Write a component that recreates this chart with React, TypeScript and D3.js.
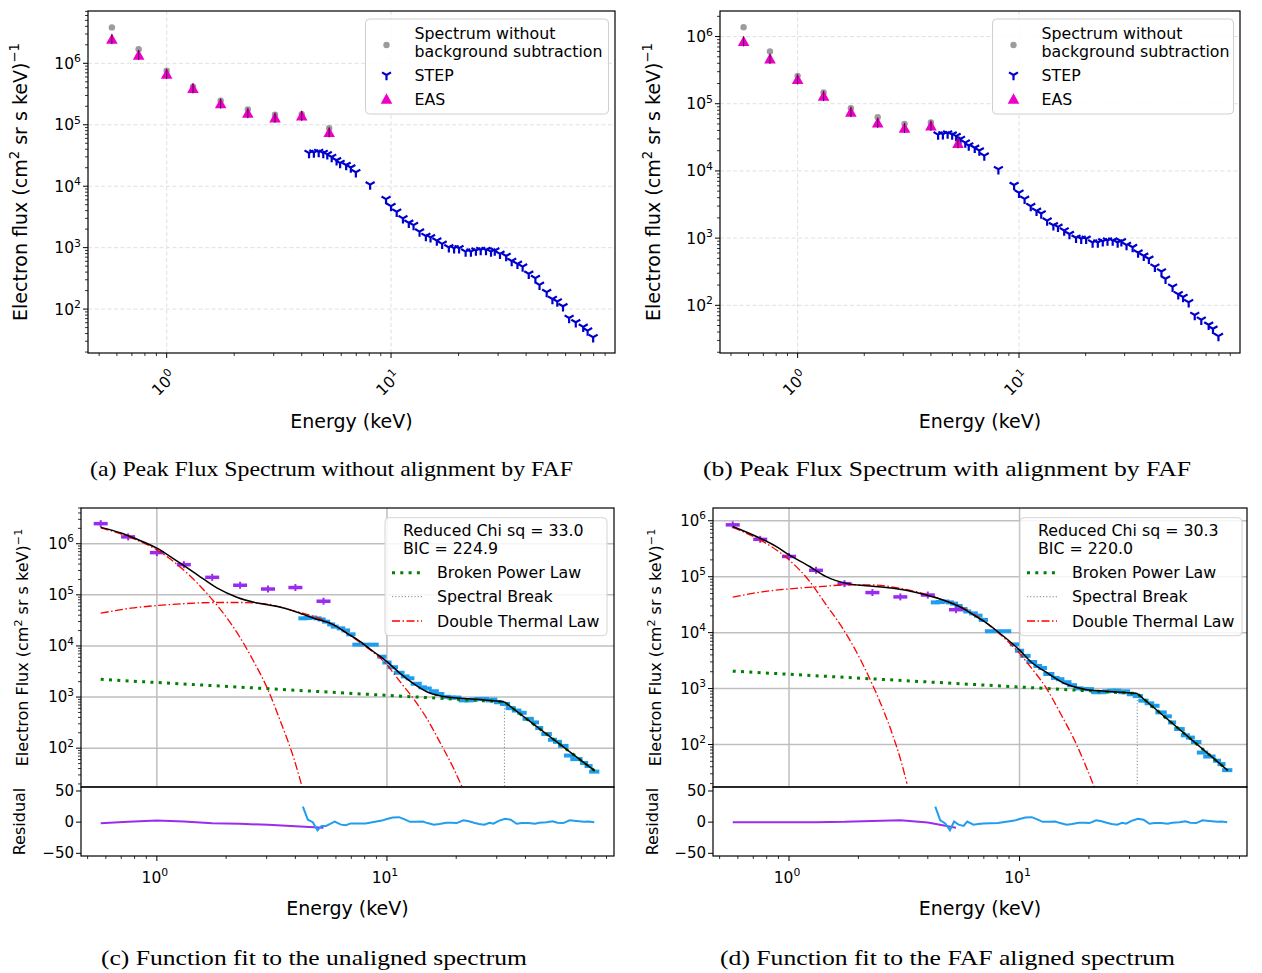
import * as d3 from 'd3';
import React from 'react';

// EAS energies (keV) and fluxes
const easEnergy = [0.57, 0.75, 1.0, 1.31, 1.74, 2.3, 3.04, 4.0, 5.3];
const easRawA = [3.84e6, 1.69e6, 7.6e5, 4.17e5, 2.47e5, 1.78e5, 1.46e5, 1.48e5, 8.8e4];
const easFluxA = [2.47e6, 1.36e6, 6.7e5, 3.9e5, 2.2e5, 1.54e5, 1.3e5, 1.39e5, 7.5e4];
const easRawB = [1.38e6, 5.98e5, 2.6e5, 1.47e5, 8.6e4, 6.3e4, 5.0e4, 5.25e4, 3.0e4];
const easFluxB = [8.45e5, 4.65e5, 2.3e5, 1.3e5, 7.5e4, 5.2e4, 4.35e4, 4.7e4, 2.57e4];

// STEP channels
const stepEnergy = [
  4.31, 4.53, 4.76, 4.99, 5.2, 5.44, 5.72, 5.93, 6.31, 6.62, 6.97, 8.07, 9.5, 10.0, 10.6, 11.3, 12.0,
  12.6, 13.4, 14.3, 15.0, 16.0, 16.9, 18.1, 19.1, 20.1, 21.5, 22.7, 23.9, 25.1, 26.5, 27.9, 29.0,
  30.6, 32.6, 34.5, 36.6, 38.6, 41.1, 44.0, 45.9, 49.4, 52.4, 55.1, 58.4, 62.2, 66.6, 71.9, 75.2, 79.6,
];
const stepFlux = [
  3.47e4, 3.52e4, 3.6e4, 3.47e4, 3.3e4, 2.99e4, 2.64e4, 2.39e4, 2.21e4, 2.01e4, 1.69e4, 1.06e4, 6.16e3,
  4.74e3, 3.84e3, 2.99e3, 2.54e3, 2.33e3, 1.82e3, 1.55e3, 1.47e3, 1.3e3, 1.15e3, 1.01e3, 977, 977, 861,
  861, 893, 918, 918, 861, 893, 791, 733, 608, 545, 492, 375, 319, 248, 189, 146, 133, 111, 71.8, 61.0,
  51.3, 44.7, 34.8,
];

// fit components, panel (c)
const breakEnergy = 32.4;
const fitEnergyC = [0.57, 0.698, 0.811, 1.0, 1.23, 1.5, 1.83, 2.24, 2.73, 3.34, 4.07, 4.81, 5.87, 6.71, 7.66, 8.75, 10.0, 11.4, 13.0, 14.9, 17.0, 20.8, 25.4, 32.4, 80];
const fitFluxC = [2.09e6, 1.62e6, 1.25e6, 8.2e5, 4.5e5, 2.47e5, 1.35e5, 8.9e4, 6.9e4, 5.9e4, 4.57e4, 3.49e4, 2.58e4, 1.77e4, 1.22e4, 7.7e3, 4.92e3, 2.91e3, 1.85e3, 1.27e3, 1.06e3, 944, 900, 805, 36];
const thermal1EnergyC = [0.57, 0.698, 0.811, 1.0, 1.23, 1.5, 1.77, 2.02, 2.31, 2.64, 3.02, 3.45, 3.94, 4.28];
const thermal1FluxC = [2.05e6, 1.55e6, 1.2e6, 7.6e5, 3.87e5, 1.69e5, 7.4e4, 3.49e4, 1.41e4, 4.92e3, 1.48e3, 328, 62.7, 17.4];
const thermal2EnergyC = [0.57, 0.771, 1.0, 1.27, 1.77, 2.31, 3.02, 3.94, 4.81, 5.87, 7.54, 10.0, 11.4, 13.0, 14.9, 17.0, 19.5, 21.2];
const thermal2FluxC = [4.38e4, 5.48e4, 6.17e4, 6.66e4, 7.08e4, 7.08e4, 6.58e4, 4.85e4, 3.76e4, 2.58e4, 1.22e4, 4.24e3, 2.0e3, 944, 382, 130, 39.9, 17.4];
const powerLawEnergy = [0.57, 32.4, 80];
const powerLawFluxC = [2.22e3, 804, 36];

// fit components, panel (d)
const fitEnergyD = [0.57, 0.722, 0.882, 1.0, 1.23, 1.45, 1.77, 2.16, 2.64, 3.33, 3.94, 4.66, 5.68, 6.49, 7.05, 8.05, 10.0, 11.2, 13.3, 15.7, 19.1, 23.4, 28.5, 32.4, 80];
const fitFluxD = [7.9e5, 5.23e5, 3.46e5, 2.46e5, 1.52e5, 1.0e5, 7.6e4, 6.9e4, 6.4e4, 5.57e4, 4.72e4, 3.84e4, 2.72e4, 1.93e4, 1.57e4, 1.04e4, 4.87e3, 3.01e3, 1.86e3, 1.23e3, 974, 897, 851, 816, 34.5];
const thermal1EnergyD = [0.57, 0.722, 0.882, 1.0, 1.23, 1.45, 1.71, 1.96, 2.24, 2.55, 2.82, 3.07, 3.25];
const thermal1FluxD = [7.6e5, 4.9e5, 3.0e5, 2.0e5, 8.2e4, 3.13e4, 1.19e4, 4.55e3, 1.5e3, 440, 146, 48.5, 19.9];
const thermal2EnergyD = [0.57, 0.746, 1.0, 1.36, 1.77, 2.24, 2.92, 3.69, 4.66, 5.68, 7.29, 8.61, 10.0, 11.2, 13.1, 15.2, 17.3, 19.1, 21.1];
const thermal2FluxD = [4.3e4, 5.28e4, 6.04e4, 6.65e4, 7.13e4, 7.13e4, 6.38e4, 5.19e4, 3.84e4, 2.79e4, 1.41e4, 7.9e3, 4.26e3, 2.4e3, 1.0e3, 333, 120, 48, 17.4];
const powerLawFluxD = [2.05e3, 816, 34.5];

// residuals
const easResidC = [-1.6, 0.5, 2.7, 1, -1.6, -2.7, -4.3, -6.5, -9];
const easResidD = [0, 0, 0, 0, 0.5, 2, 3, -0.5, -9];
const stepResidC = [
  25, 4, 0, -13, -6, -6, -2, 1, -4, -5, -2, -2, 2.5, 5, 7.5, 8, 4, 0.5, 0.5, 1, -1.5, -4, -3, -1, -1,
  -1.5, 3, 1.5, -1, -3, -4, -1, -2.5, 2, 5.5, 4, -2.5, -1.5, -1.5, -2.5, -1, 0, 1.5, -1, -1.5, 3, 2, 0.5, 1, 0,
];
const stepResidD = [
  25, 3, -2, -13, 1, -4, -6, 1, -4, -3, -2, -1.5, 2.5, 5, 7.5, 8, 4, 0.5, 0.5, 1, -1.5, -4, -3, -1, -1,
  -1.5, 3, 1.5, -1, -3, -4, -1, -2.5, 2, 5.5, 4, -2.5, -1.5, -1.5, -2.5, -1, 0, 1.5, -1, -1.5, 3, 2, 0.5, 1, 0,
];
const residTicks = [-50, 0, 50];

const W = 1262;
const H = 973;
const SANS = 'DejaVu Sans, Verdana, sans-serif';
const SERIF = 'Liberation Serif, Times New Roman, serif';
const MAGENTA = '#ee00c8';
const STEPBLUE = '#0000cd';
const PURPLE = '#9a2cf0';
const LIGHTBLUE = '#1f9ef0';

const topX: [number, number] = [0.446, 99.6];
const fitX: [number, number] = [0.468, 97];
const residDomain: [number, number] = [-54.3, 56.4];

function logTicks([lo, hi]: [number, number]) {
  const major: number[] = [];
  const minor: number[] = [];
  for (let p = Math.floor(Math.log10(lo)); p <= Math.ceil(Math.log10(hi)); p++) {
    for (let k = 1; k < 10; k++) {
      const v = k * Math.pow(10, p);
      if (v < lo || v > hi) continue;
      (k === 1 ? major : minor).push(v);
    }
  }
  return { major, minor };
}

const triDown = (r: number) => `M0,0L0,${r}M0,0L${-0.866 * r},${-0.5 * r}M0,0L${0.866 * r},${-0.5 * r}`;
const triUp = (r: number) => `M0,${-r}L${-r},${r * 0.8}L${r},${r * 0.8}Z`;

function Pow10({ p, size, ...rest }: any) {
  return (
    <text fontSize={size} {...rest}>
      10<tspan dy={-size * 0.42} fontSize={size * 0.7}>{p}</tspan>
    </text>
  );
}

function FluxLabel({ x, y, size, text }: any) {
  return (
    <text transform={`translate(${x},${y}) rotate(-90)`} textAnchor="middle" fontSize={size}>
      {text} (cm<tspan dy={-size * 0.4} fontSize={size * 0.7}>2</tspan>
      <tspan dy={size * 0.4}> sr s keV)</tspan>
      <tspan dy={-size * 0.4} fontSize={size * 0.7}>−1</tspan>
    </text>
  );
}

function Caption({ x, y, len, text }: any) {
  return (
    <text x={x} y={y} textAnchor="middle" fontFamily={SERIF} fontSize={21} textLength={len} lengthAdjust="spacingAndGlyphs">
      {text}
    </text>
  );
}

function TopPanel({ box, yDomain, rawFlux, easFlux, yLabelX, legend, caption }: any) {
  const x = d3.scaleLog().domain(topX).range([box.left, box.right]);
  const y = d3.scaleLog().domain(yDomain).range([box.bottom, box.top]);
  const xt = logTicks(topX);
  const yt = logTicks(yDomain);
  const midX = (box.left + box.right) / 2;
  const midY = (box.top + box.bottom) / 2;
  const lx = legend.x;
  const ly = legend.y;
  return (
    <g>
      {xt.major.map((v) => (
        <line key={`gx${v}`} x1={x(v)} x2={x(v)} y1={box.top} y2={box.bottom} stroke="#dcdcdc" strokeWidth={0.9} strokeDasharray="4 2.5" />
      ))}
      {yt.major.map((v) => (
        <line key={`gy${v}`} x1={box.left} x2={box.right} y1={y(v)} y2={y(v)} stroke="#dcdcdc" strokeWidth={0.9} strokeDasharray="4 2.5" />
      ))}
      {easEnergy.map((e, i) => (
        <circle key={`r${i}`} cx={x(e)} cy={y(rawFlux[i])} r={3.2} fill="#9c9c9c" />
      ))}
      {stepEnergy.map((e, i) => (
        <path key={`s${i}`} transform={`translate(${x(e)},${y(stepFlux[i])})`} d={triDown(5.2)} stroke={STEPBLUE} strokeWidth={2.2} fill="none" />
      ))}
      {easEnergy.map((e, i) => (
        <g key={`e${i}`} transform={`translate(${x(e)},${y(easFlux[i])})`}>
          <path d={triUp(5.8)} fill={MAGENTA} />
          <line y1={-5} y2={5} stroke="#50003f" strokeWidth={1} />
        </g>
      ))}
      <rect x={box.left} y={box.top} width={box.right - box.left} height={box.bottom - box.top} fill="none" stroke="#000" strokeWidth={1.2} />
      {xt.major.map((v) => (
        <g key={`tx${v}`}>
          <line x1={x(v)} x2={x(v)} y1={box.bottom} y2={box.bottom + 5} stroke="#000" />
          <Pow10 p={Math.round(Math.log10(v))} size={15.5} textAnchor="middle" transform={`translate(${x(v) + 1},${box.bottom + 34}) rotate(-45)`} />
        </g>
      ))}
      {xt.minor.map((v) => (
        <line key={`mx${v}`} x1={x(v)} x2={x(v)} y1={box.bottom} y2={box.bottom + 3} stroke="#000" strokeWidth={0.8} />
      ))}
      {yt.major.map((v) => (
        <g key={`ty${v}`}>
          <line x1={box.left - 5} x2={box.left} y1={y(v)} y2={y(v)} stroke="#000" />
          <Pow10 p={Math.round(Math.log10(v))} size={15.5} x={box.left - 7} y={y(v) + 5.5} textAnchor="end" />
        </g>
      ))}
      {yt.minor.map((v) => (
        <line key={`my${v}`} x1={box.left - 3} x2={box.left} y1={y(v)} y2={y(v)} stroke="#000" strokeWidth={0.8} />
      ))}
      <FluxLabel x={yLabelX} y={midY} size={19} text="Electron flux" />
      <text x={midX} y={box.bottom + 75} textAnchor="middle" fontSize={19}>Energy (keV)</text>
      <rect x={lx} y={ly} width={legend.w} height={95} rx={4} fill="#fff" fillOpacity={0.85} stroke="#cfcfcf" />
      <circle cx={lx + 21} cy={ly + 26} r={3.2} fill="#9c9c9c" />
      <path transform={`translate(${lx + 21},${ly + 56})`} d={triDown(5.2)} stroke={STEPBLUE} strokeWidth={2.2} fill="none" />
      <path transform={`translate(${lx + 21},${ly + 80})`} d={triUp(5.8)} fill={MAGENTA} />
      <g fontSize={15.8} dominantBaseline="central">
        <text x={lx + 49} y={ly + 14}>Spectrum without</text>
        <text x={lx + 49} y={ly + 32.5}>background subtraction</text>
        <text x={lx + 49} y={ly + 56}>STEP</text>
        <text x={lx + 49} y={ly + 80}>EAS</text>
      </g>
      <Caption {...caption} />
    </g>
  );
}

function FitPanel({ id, box, yDomain, easFlux, easResid, stepResid, fitE, fitF, th1E, th1F, th2E, th2F, plF, stats, legendX, yLabelX, resLabelX, caption }: any) {
  const x = d3.scaleLog().domain(fitX).range([box.left, box.right]);
  const y = d3.scaleLog().domain(yDomain).range([box.mid, box.top]);
  const r = d3.scaleLinear().domain(residDomain).range([box.bottom, box.mid]);
  const xt = logTicks(fitX);
  const yt = logTicks(yDomain);
  const midX = (box.left + box.right) / 2;
  const midY = (box.top + box.mid) / 2;
  const pts = (es: number[], fs: number[]) => es.map((e, i) => [e, fs[i]] as [number, number]);
  const lin = d3.line<[number, number]>().x((d) => x(d[0])).y((d) => y(d[1]));
  const smooth = d3.line<[number, number]>().x((d) => x(d[0])).y((d) => y(d[1])).curve(d3.curveMonotoneX);
  const resLine = d3.line<[number, number]>().x((d) => x(d[0])).y((d) => r(d[1]));
  const total = pts(fitE, fitF);
  const pre = total.filter((d) => d[0] <= breakEnergy);
  const post = total.filter((d) => d[0] >= breakEnergy);
  const decadePx = x(10) - x(1);
  const stepHalf = stepEnergy.map((e, i) => {
    const dl = i > 0 ? Math.log10(e / stepEnergy[i - 1]) : Infinity;
    const dr = i < stepEnergy.length - 1 ? Math.log10(stepEnergy[i + 1] / e) : Infinity;
    return Math.max(0.9 * Math.min(dl, dr) * decadePx, 4);
  });
  const breakFlux = plF[1];
  const lx = legendX;
  const ly = 517.7;
  return (
    <g>
      <defs>
        <clipPath id={id}>
          <rect x={box.left} y={box.top} width={box.right - box.left} height={box.mid - box.top} />
        </clipPath>
      </defs>
      {xt.major.map((v) => (
        <line key={`gx${v}`} x1={x(v)} x2={x(v)} y1={box.top} y2={box.mid} stroke="#bfbfbf" strokeWidth={1.5} />
      ))}
      {yt.major.map((v) => (
        <line key={`gy${v}`} x1={box.left} x2={box.right} y1={y(v)} y2={y(v)} stroke="#bfbfbf" strokeWidth={1.5} />
      ))}
      <g clipPath={`url(#${id})`}>
        {stepEnergy.map((e, i) => (
          <line key={`sb${i}`} x1={x(e) - stepHalf[i]} x2={x(e) + stepHalf[i]} y1={y(stepFlux[i])} y2={y(stepFlux[i])} stroke={LIGHTBLUE} strokeWidth={4} />
        ))}
        {easEnergy.map((e, i) => (
          <g key={`eb${i}`}>
            <line x1={x(e) - 7} x2={x(e) + 7} y1={y(easFlux[i])} y2={y(easFlux[i])} stroke={PURPLE} strokeWidth={3.5} />
            <line x1={x(e)} x2={x(e)} y1={y(easFlux[i]) - 3.5} y2={y(easFlux[i]) + 3.5} stroke={PURPLE} strokeWidth={2} />
          </g>
        ))}
        <line x1={x(breakEnergy)} x2={x(breakEnergy)} y1={y(breakFlux)} y2={box.mid} stroke="#778899" strokeWidth={1} strokeDasharray="1.2 2" />
        <path d={lin(pts(powerLawEnergy, plF)) || ''} fill="none" stroke="#008000" strokeWidth={3} strokeDasharray="3 5.3" />
        <path d={smooth(pts(th1E, th1F)) || ''} fill="none" stroke="#ff0000" strokeWidth={1.3} strokeDasharray="8 2.5 1.5 2.5" />
        <path d={smooth(pts(th2E, th2F)) || ''} fill="none" stroke="#ff0000" strokeWidth={1.3} strokeDasharray="8 2.5 1.5 2.5" />
        <path d={smooth(pre) || ''} fill="none" stroke="#000" strokeWidth={1.5} />
        <path d={lin(post) || ''} fill="none" stroke="#000" strokeWidth={1.5} />
      </g>
      <path d={resLine(pts(easEnergy, easResid)) || ''} fill="none" stroke={PURPLE} strokeWidth={2} />
      <path d={resLine(pts(stepEnergy, stepResid)) || ''} fill="none" stroke={LIGHTBLUE} strokeWidth={2} />
      <rect x={box.left} y={box.top} width={box.right - box.left} height={box.mid - box.top} fill="none" stroke="#000" strokeWidth={1.2} />
      <rect x={box.left} y={box.mid} width={box.right - box.left} height={box.bottom - box.mid} fill="none" stroke="#000" strokeWidth={1.2} />
      {yt.major.map((v) => (
        <g key={`ty${v}`}>
          <line x1={box.left - 5} x2={box.left} y1={y(v)} y2={y(v)} stroke="#000" />
          <Pow10 p={Math.round(Math.log10(v))} size={15} x={box.left - 7} y={y(v) + 5} textAnchor="end" />
        </g>
      ))}
      {yt.minor.map((v) => (
        <line key={`my${v}`} x1={box.left - 3} x2={box.left} y1={y(v)} y2={y(v)} stroke="#000" strokeWidth={0.8} />
      ))}
      {residTicks.map((v) => (
        <g key={`tr${v}`}>
          <line x1={box.left - 5} x2={box.left} y1={r(v)} y2={r(v)} stroke="#000" />
          <text x={box.left - 7} y={r(v) + 5} textAnchor="end" fontSize={15}>{v < 0 ? `−${-v}` : v}</text>
        </g>
      ))}
      {xt.major.map((v) => (
        <g key={`tx${v}`}>
          <line x1={x(v)} x2={x(v)} y1={box.bottom} y2={box.bottom + 5} stroke="#000" />
          <Pow10 p={Math.round(Math.log10(v))} size={15.5} x={x(v) - 2} y={box.bottom + 27} textAnchor="middle" />
        </g>
      ))}
      {xt.minor.map((v) => (
        <line key={`mx${v}`} x1={x(v)} x2={x(v)} y1={box.bottom} y2={box.bottom + 3} stroke="#000" strokeWidth={0.8} />
      ))}
      <FluxLabel x={yLabelX} y={midY} size={16} text="Electron Flux" />
      <text transform={`translate(${resLabelX},${(box.mid + box.bottom) / 2}) rotate(-90)`} textAnchor="middle" fontSize={16}>Residual</text>
      <text x={midX} y={box.bottom + 59} textAnchor="middle" fontSize={19}>Energy (keV)</text>
      <rect x={lx} y={ly} width={222} height={118} rx={4} fill="#fff" fillOpacity={0.85} stroke="#d4d4d4" />
      <line x1={lx + 7} x2={lx + 37} y1={ly + 55} y2={ly + 55} stroke="#008000" strokeWidth={3} strokeDasharray="3 5.3" />
      <line x1={lx + 7} x2={lx + 37} y1={ly + 79} y2={ly + 79} stroke="#778899" strokeWidth={1} strokeDasharray="1.2 2" />
      <line x1={lx + 7} x2={lx + 37} y1={ly + 103.3} y2={ly + 103.3} stroke="#ff0000" strokeWidth={1.3} strokeDasharray="8 2.5 1.5 2.5" />
      <g fontSize={15.8} dominantBaseline="central">
        <text x={lx + 18} y={ly + 12.5}>Reduced Chi sq = {stats[0]}</text>
        <text x={lx + 18} y={ly + 31}>BIC = {stats[1]}</text>
        <text x={lx + 52} y={ly + 55}>Broken Power Law</text>
        <text x={lx + 52} y={ly + 79}>Spectral Break</text>
        <text x={lx + 52} y={ly + 103.3}>Double Thermal Law</text>
      </g>
      <Caption {...caption} />
    </g>
  );
}

export default function App() {
  return (
    <svg width={W} height={H} viewBox={`0 0 ${W} ${H}`} fontFamily={SANS} style={{ position: 'absolute', left: 0, top: 0, background: '#fff' }}>
      <rect width={W} height={H} fill="#fff" />
      <TopPanel
        box={{ left: 88, right: 615, top: 11, bottom: 353 }}
        yDomain={[19.3, 7.1e6]}
        rawFlux={easRawA}
        easFlux={easFluxA}
        yLabelX={27}
        legend={{ x: 365.5, y: 19, w: 243 }}
        caption={{ x: 331.5, y: 476, len: 483, text: '(a) Peak Flux Spectrum without alignment by FAF' }}
      />
      <TopPanel
        box={{ left: 720, right: 1240, top: 11, bottom: 353 }}
        yDomain={[19.5, 2.4e6]}
        rawFlux={easRawB}
        easFlux={easFluxB}
        yLabelX={660}
        legend={{ x: 992.5, y: 19, w: 241 }}
        caption={{ x: 947, y: 476, len: 488, text: '(b) Peak Flux Spectrum with alignment by FAF' }}
      />
      <FitPanel
        id="clipC"
        box={{ left: 81, right: 614, top: 508, mid: 787, bottom: 856 }}
        yDomain={[17.4, 5.0e6]}
        easFlux={easFluxA}
        easResid={easResidC}
        stepResid={stepResidC}
        fitE={fitEnergyC}
        fitF={fitFluxC}
        th1E={thermal1EnergyC}
        th1F={thermal1FluxC}
        th2E={thermal2EnergyC}
        th2F={thermal2FluxC}
        plF={powerLawFluxC}
        stats={['33.0', '224.9']}
        legendX={385}
        yLabelX={28}
        resLabelX={25}
        caption={{ x: 314, y: 965, len: 426, text: '(c) Function fit to the unaligned spectrum' }}
      />
      <FitPanel
        id="clipD"
        box={{ left: 713, right: 1247, top: 508, mid: 787, bottom: 856 }}
        yDomain={[17.4, 1.69e6]}
        easFlux={easFluxB}
        easResid={easResidD}
        stepResid={stepResidD}
        fitE={fitEnergyD}
        fitF={fitFluxD}
        th1E={thermal1EnergyD}
        th1F={thermal1FluxD}
        th2E={thermal2EnergyD}
        th2F={thermal2FluxD}
        plF={powerLawFluxD}
        stats={['30.3', '220.0']}
        legendX={1020}
        yLabelX={661}
        resLabelX={658}
        caption={{ x: 947.5, y: 965, len: 455, text: '(d) Function fit to the FAF aligned spectrum' }}
      />
    </svg>
  );
}
